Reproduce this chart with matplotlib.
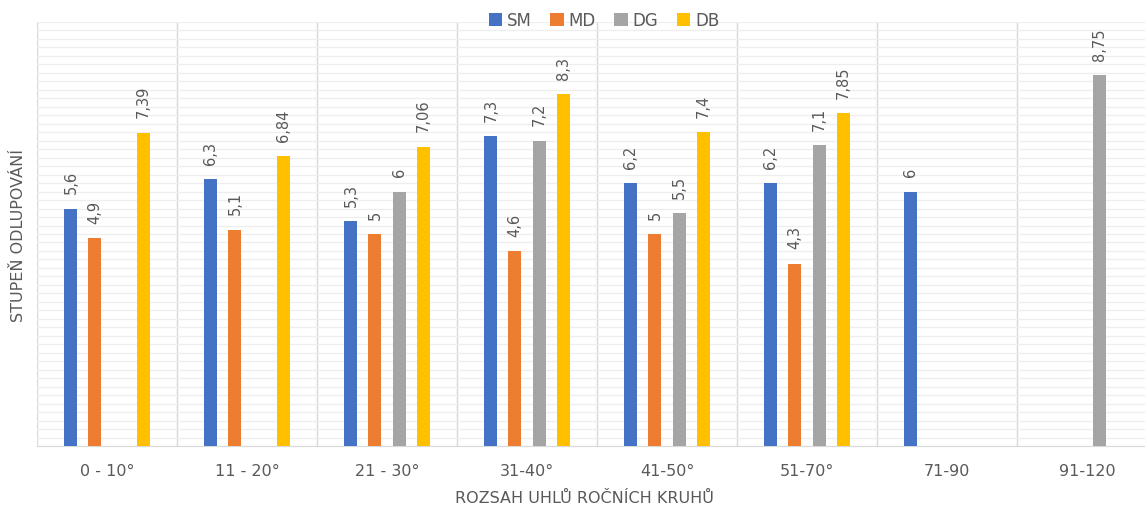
import numpy as np
import matplotlib.pyplot as plt
from matplotlib.patches import Patch


# --- Data ---

categories = ["0 - 10°", "11 - 20°", "21 - 30°", "31-40°", "41-50°", "51-70°", "71-90", "91-120"]
series_names = ["SM", "MD", "DG", "DB"]
sm = [5.6, 6.3, 5.3, 7.3, 6.2, 6.2, 6.0, np.nan]
md = [4.9, 5.1, 5.0, 4.6, 5.0, 4.3, np.nan, np.nan]
dg = [np.nan, np.nan, 6.0, 7.2, 5.5, 7.1, np.nan, 8.75]
db = [7.39, 6.84, 7.06, 8.3, 7.4, 7.85, np.nan, np.nan]
label_text = {
    "SM": ["5,6", "6,3", "5,3", "7,3", "6,2", "6,2", "6", ""],
    "MD": ["4,9", "5,1", "5", "4,6", "5", "4,3", "", ""],
    "DG": ["", "", "6", "7,2", "5,5", "7,1", "", "8,75"],
    "DB": ["7,39", "6,84", "7,06", "8,3", "7,4", "7,85", "", ""],
}
colors = ["#4472C4", "#ED7D31", "#A5A5A5", "#FFC000"]

xlabel = "ROZSAH UHLŮ ROČNÍCH KRUHŮ"
ylabel = "STUPEŇ ODLUPOVÁNÍ"


# --- Figure ---

fig = plt.figure(figsize=(11.45, 5.10), dpi=100)
ax = fig.add_axes([37 / 1145, 1 - 447 / 510, 1120 / 1145, 424 / 510])

text_gray = "#595959"
x = np.arange(len(categories))
bar_w = 0.093
offsets = [-0.258, -0.086, 0.086, 0.258]

for vals, name, col, off in zip([sm, md, dg, db], series_names, colors, offsets):
    ax.bar(x + off, vals, width=bar_w, color=col, zorder=3)
    for xi, v, txt in zip(x, vals, label_text[name]):
        if np.isnan(v) or not txt:
            continue
        ax.annotate(txt, (xi + off, v), xytext=(0, 11), textcoords="offset points",
                    rotation=90, ha="center", va="bottom", fontsize=10.5, color=text_gray)

ax.set_xlim(-0.5, len(categories) - 0.5)
ax.set_ylim(0, 10)

# horizontal grid every 0.2
ax.set_yticks(np.arange(0, 10.01, 0.2))
ax.yaxis.grid(True, color="#eeeeee", linewidth=0.9, zorder=0)
ax.tick_params(axis="y", left=False, labelleft=False)

# category separators
for b in np.arange(-0.5, len(categories) + 0.5, 1):
    ax.axvline(b, color="#d9d9d9", linewidth=1.0, zorder=1)

ax.set_xticks(x)
ax.set_xticklabels(categories, fontsize=11.5, color=text_gray)
ax.tick_params(axis="x", length=0, pad=12)

for s in ["top", "right", "left"]:
    ax.spines[s].set_visible(False)
ax.spines["bottom"].set_color("#d9d9d9")

ax.set_xlabel(xlabel, fontsize=11.5, color=text_gray)
ax.xaxis.set_label_coords(0.489, -0.104)
ax.set_ylabel(ylabel, fontsize=11.5, color=text_gray)
ax.yaxis.set_label_coords(-0.010, 0.5)

handles = [Patch(facecolor=c, edgecolor="none") for c in colors]
fig.legend(handles, series_names, loc="center", bbox_to_anchor=(604 / 1145, 1 - 21 / 510),
           ncol=4, frameon=False, fontsize=12, handlelength=0.8, handleheight=0.8,
           handletextpad=0.3, columnspacing=1.1, labelcolor=text_gray)

fig.savefig("out.png", dpi=100)
